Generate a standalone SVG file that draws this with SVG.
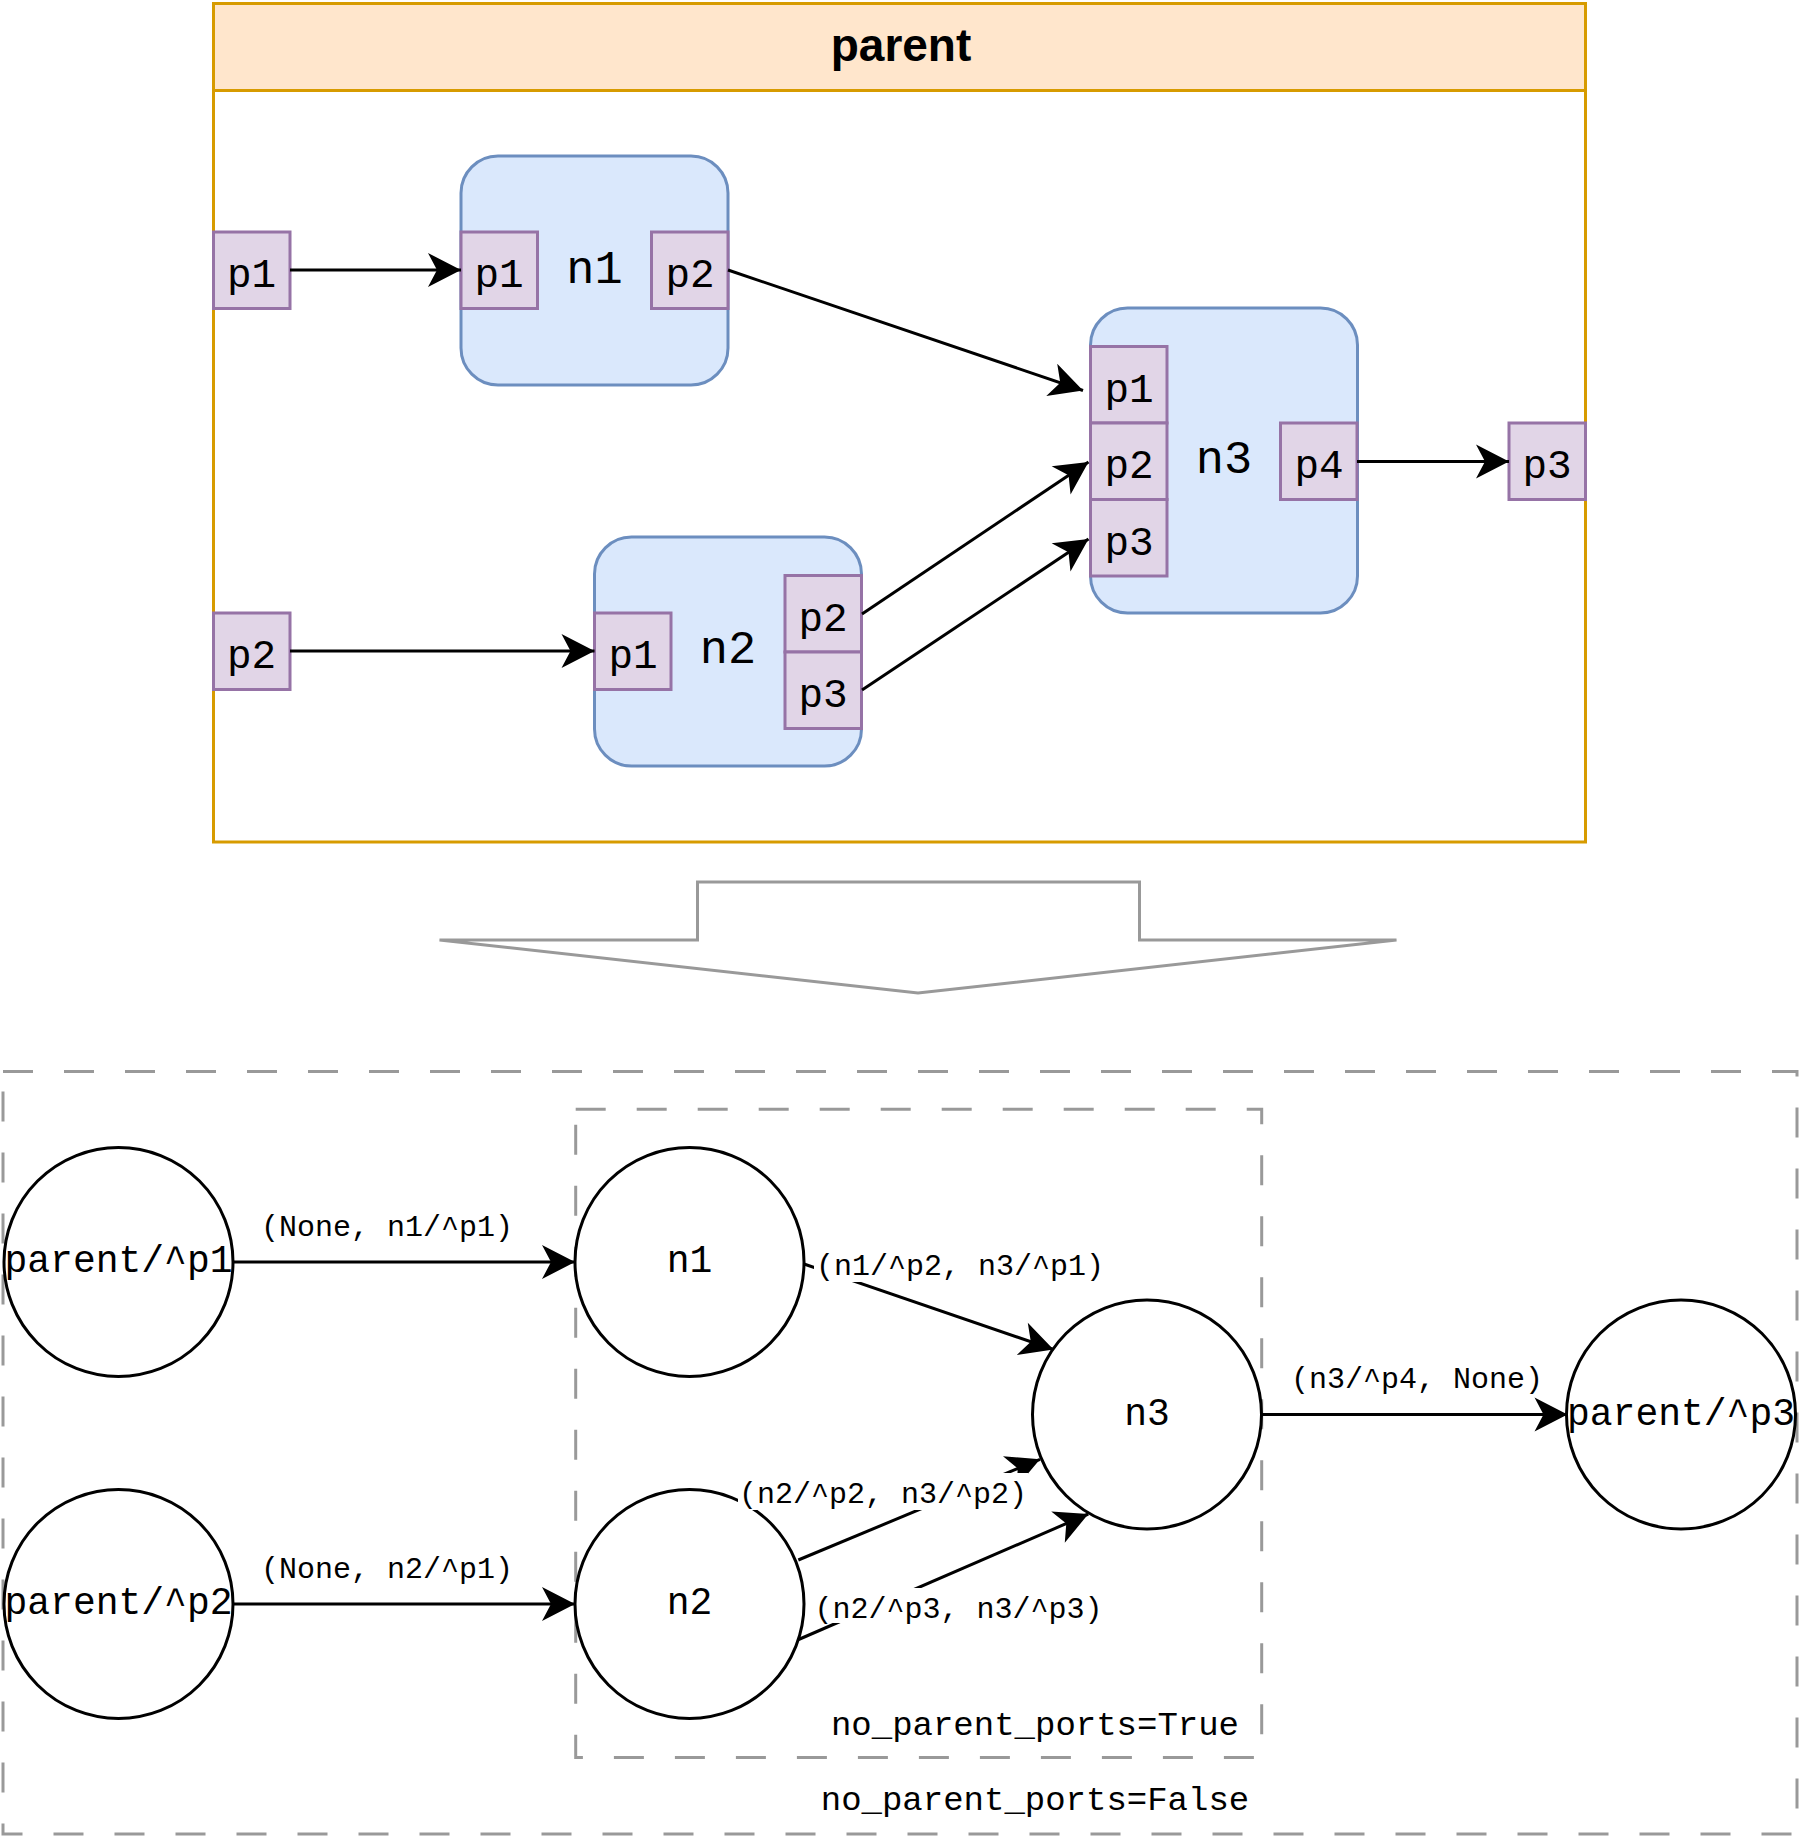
<svg xmlns="http://www.w3.org/2000/svg" width="1800" height="1839" viewBox="0 0 1800 1839">
  <defs>
    <marker id="arr" markerUnits="userSpaceOnUse" markerWidth="38" markerHeight="38" viewBox="-35 -19 38 38" refX="0" refY="0" orient="auto">
      <path d="M0,0 L-33,-17 L-24,0 L-33,17 Z" fill="#000"/>
    </marker>
    <style>
      .port { fill: #e1d5e7; stroke: #9673a6; stroke-width: 3; }
      .node { fill: #dae8fc; stroke: #6c8ebf; stroke-width: 3; }
      .mono { font-family: "Liberation Mono", "DejaVu Sans Mono", monospace; fill: #000; text-anchor: middle; }
      .pl { font-size: 41px; }
      .nl { font-size: 47px; }
      .cl { font-size: 38px; }
      .el { font-size: 30px; }
      .bl { font-size: 34px; }
      .edge { fill: none; stroke: #000; stroke-width: 3; marker-end: url(#arr); }
      .circ { fill: #fff; stroke: #000; stroke-width: 3; }
      .dash { fill: none; stroke: #999999; stroke-width: 3; stroke-dasharray: 30 31; }
      .lbg { fill: #fff; stroke: none; }
    </style>
  </defs>

  <!-- Top: parent container -->
  <g id="parent">
    <rect x="213.5" y="3.5" width="1372" height="838.5" fill="#fff" stroke="#d79b00" stroke-width="3"/>
    <rect x="213.5" y="3.5" width="1372" height="87" fill="#ffe6cc" stroke="#d79b00" stroke-width="3"/>
    <text x="901" y="61" font-family="Liberation Sans, Arial, sans-serif" font-weight="bold" font-size="46" text-anchor="middle">parent</text>
  </g>

  <g id="parent-p1">
    <rect class="port" x="213.5" y="232" width="76.5" height="76.5"/>
    <text class="mono pl" x="251.5" y="287">p1</text>
  </g>
  <g id="parent-p2">
    <rect class="port" x="213.5" y="613" width="76.5" height="76.5"/>
    <text class="mono pl" x="251.5" y="668">p2</text>
  </g>
  <g id="parent-p3">
    <rect class="port" x="1509" y="423" width="76.5" height="76.5"/>
    <text class="mono pl" x="1547" y="478">p3</text>
  </g>

  <g id="n1">
    <rect class="node" x="461" y="156" width="267" height="229" rx="37" ry="37"/>
    <text class="mono nl" x="594.5" y="283">n1</text>
    <rect class="port" x="461" y="232" width="76.5" height="76.5"/>
    <text class="mono pl" x="499" y="287">p1</text>
    <rect class="port" x="651.5" y="232" width="76.5" height="76.5"/>
    <text class="mono pl" x="690" y="287">p2</text>
  </g>

  <g id="n2">
    <rect class="node" x="594.5" y="537" width="267" height="229" rx="37" ry="37"/>
    <text class="mono nl" x="728" y="663">n2</text>
    <rect class="port" x="594.5" y="613" width="76.5" height="76.5"/>
    <text class="mono pl" x="633" y="668">p1</text>
    <rect class="port" x="785" y="575.5" width="76.5" height="76.5"/>
    <text class="mono pl" x="823" y="631">p2</text>
    <rect class="port" x="785" y="652" width="76.5" height="76.5"/>
    <text class="mono pl" x="823" y="707">p3</text>
  </g>

  <g id="n3">
    <rect class="node" x="1090.5" y="308" width="267" height="305" rx="37" ry="37"/>
    <text class="mono nl" x="1224" y="473">n3</text>
    <rect class="port" x="1090.5" y="346.5" width="76.5" height="76.5"/>
    <text class="mono pl" x="1129" y="402">p1</text>
    <rect class="port" x="1090.5" y="423" width="76.5" height="76.5"/>
    <text class="mono pl" x="1129" y="478">p2</text>
    <rect class="port" x="1090.5" y="499.5" width="76.5" height="76.5"/>
    <text class="mono pl" x="1129" y="555">p3</text>
    <rect class="port" x="1280.5" y="423" width="76.5" height="76.5"/>
    <text class="mono pl" x="1319" y="478">p4</text>
  </g>

  <g id="top-connectors">
    <line class="edge" x1="290" y1="270" x2="461" y2="270"/>
    <line class="edge" x1="728" y1="270" x2="1083" y2="390.5"/>
    <line class="edge" x1="862" y1="614" x2="1088.5" y2="462"/>
    <line class="edge" x1="862" y1="690" x2="1088.5" y2="539"/>
    <line class="edge" x1="1357" y1="461.5" x2="1509" y2="461.5"/>
    <line class="edge" x1="290" y1="651" x2="594.5" y2="651"/>
  </g>

  <!-- Big transform arrow -->
  <g id="transform-arrow">
    <path d="M697.5,882 L1139.5,882 L1139.5,940 L1396.5,940 L918,993 L439.5,940 L697.5,940 Z" fill="#fff" stroke="#999999" stroke-width="3" stroke-linejoin="miter"/>
  </g>

  <!-- Bottom: graph -->
  <g id="no-parent-ports-false">
    <rect class="dash" x="3" y="1071.5" width="1794" height="762.5"/>
    <text class="mono bl" x="1035" y="1810">no_parent_ports=False</text>
  </g>
  <g id="no-parent-ports-true">
    <rect class="dash" x="575.7" y="1109.3" width="686" height="648.2"/>
    <text class="mono bl" x="1035" y="1735">no_parent_ports=True</text>
  </g>

  <g id="bottom-connectors">
    <line class="edge" x1="233" y1="1262" x2="575" y2="1262"/>
    <line class="edge" x1="233" y1="1604" x2="575" y2="1604"/>
    <line class="edge" x1="804" y1="1264" x2="1053.5" y2="1349.5"/>
    <line class="edge" x1="798.3" y1="1560" x2="1040" y2="1459.3"/>
    <line class="edge" x1="798.6" y1="1639.5" x2="1088.3" y2="1514"/>
    <line class="edge" x1="1261.5" y1="1414.5" x2="1567.5" y2="1414.5"/>
  </g>

  <g id="circle-parent-p1">
    <circle class="circ" cx="118.5" cy="1262" r="114.5"/>
    <text class="mono cl" x="118.5" y="1272">parent/^p1</text>
  </g>
  <g id="circle-parent-p2">
    <circle class="circ" cx="118.5" cy="1604" r="114.5"/>
    <text class="mono cl" x="118.5" y="1614">parent/^p2</text>
  </g>
  <g id="circle-n1">
    <circle class="circ" cx="689.5" cy="1262" r="114.5"/>
    <text class="mono cl" x="689.5" y="1272">n1</text>
  </g>
  <g id="circle-n2">
    <circle class="circ" cx="689.5" cy="1604" r="114.5"/>
    <text class="mono cl" x="689.5" y="1614">n2</text>
  </g>
  <g id="circle-n3">
    <circle class="circ" cx="1147" cy="1414.5" r="114.5"/>
    <text class="mono cl" x="1147" y="1424.5">n3</text>
  </g>
  <g id="circle-parent-p3">
    <circle class="circ" cx="1681" cy="1414.5" r="114.5"/>
    <text class="mono cl" x="1681" y="1424.5">parent/^p3</text>
  </g>

  <g id="edge-labels">
    <text class="mono el" x="387" y="1235.5">(None, n1/^p1)</text>
    <text class="mono el" x="387" y="1577.5">(None, n2/^p1)</text>
    <rect class="lbg" x="814" y="1245" width="292" height="37"/>
    <text class="mono el" x="960" y="1275">(n1/^p2, n3/^p1)</text>
    <rect class="lbg" x="738" y="1473" width="290" height="37"/>
    <text class="mono el" x="883" y="1503">(n2/^p2, n3/^p2)</text>
    <rect class="lbg" x="814" y="1588" width="290" height="35"/>
    <text class="mono el" x="958.5" y="1618">(n2/^p3, n3/^p3)</text>
    <text class="mono el" x="1417" y="1388">(n3/^p4, None)</text>
  </g>
</svg>
